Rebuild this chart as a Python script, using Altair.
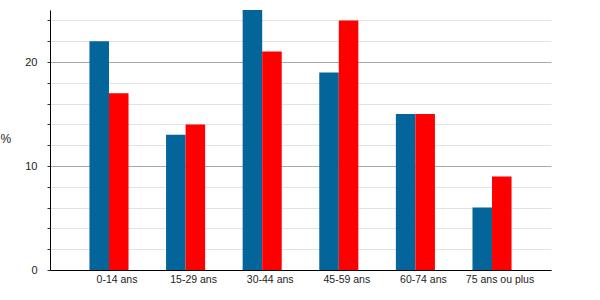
import altair as alt
import pandas as pd

categories = ["0-14 ans", "15-29 ans", "30-44 ans", "45-59 ans", "60-74 ans", "75 ans ou plus"]
series_names = ["Série 1", "Série 2"]
values_a = [22, 13, 25, 19, 15, 6]
values_b = [17, 14, 21, 24, 15, 9]
colors = ["#03659a", "#ff0000"]
y_ticks = list(range(0, 25, 2))

rows = []
for c, a, b in zip(categories, values_a, values_b):
    rows.append({"cat": c, "serie": series_names[0], "val": a})
    rows.append({"cat": c, "serie": series_names[1], "val": b})
df = pd.DataFrame(rows)

chart = alt.Chart(df).mark_bar().encode(
    x=alt.X("cat:N", sort=categories,
            scale=alt.Scale(paddingInner=0.49, paddingOuter=0.515),
            axis=alt.Axis(title=None, labelAngle=0, ticks=False, domainColor="#000",
                          labelFont="Liberation Sans", labelFontSize=10.5,
                          labelColor="#222", labelOffset=8, labelPadding=4, grid=False)),
    xOffset=alt.XOffset("serie:N", sort=series_names),
    y=alt.Y("val:Q", scale=alt.Scale(domain=[0, 25], nice=False),
            axis=alt.Axis(title="%", titleAngle=0, titleX=-50, titleY=128,
                          titleAlign="left", titleBaseline="middle",
                          titleFont="Liberation Sans", titleFontSize=12,
                          titleFontWeight="normal", titleColor="#222",
                          values=y_ticks,
                          labelExpr="datum.value % 10 === 0 ? datum.label : ''",
                          labelFont="Liberation Sans", labelFontSize=11,
                          labelColor="#222", labelPadding=10,
                          tickSize=3, tickColor="#333", domainColor="#000",
                          gridColor={"condition": {"test": "datum.value % 10 === 0", "value": "#a8a8a8"},
                                     "value": "#e2e2e2"})),
    color=alt.Color("serie:N", scale=alt.Scale(domain=series_names, range=colors), legend=None),
).properties(
    width=501, height=260,
    padding={"left": 50, "top": 10, "right": 49, "bottom": 30},
    autosize="none",
).configure_view(stroke=None)

chart.save("out.html", embed_options={"renderer": "svg", "actions": False})
